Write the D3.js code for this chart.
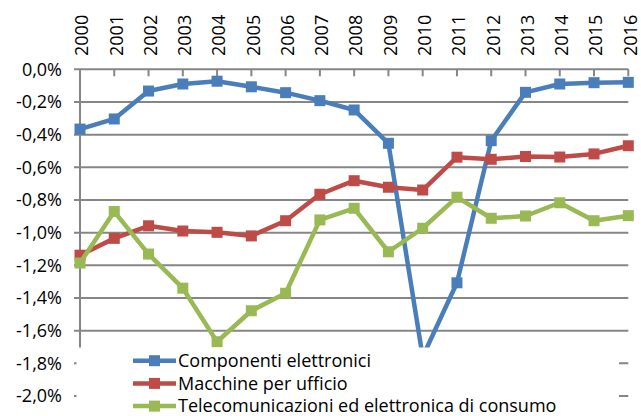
<!DOCTYPE html>
<html><head><meta charset="utf-8">
<script src="https://cdn.jsdelivr.net/npm/d3@7"></script>
<style>body{margin:0;background:#fff}svg{display:block}text{font-family:"Open Sans",sans-serif;fill:#000}</style>
</head><body><svg id="c" width="641" height="416"></svg>
<script>
const years = ["2000","2001","2002","2003","2004","2005","2006","2007","2008","2009","2010","2011","2012","2013","2014","2015","2016"];
const componenti = [-0.366,-0.304,-0.133,-0.09,-0.073,-0.107,-0.143,-0.192,-0.249,-0.453,-1.76,-1.307,-0.437,-0.141,-0.09,-0.082,-0.08];
const macchine = [-1.138,-1.035,-0.958,-0.99,-0.998,-1.02,-0.927,-0.765,-0.682,-0.722,-0.739,-0.538,-0.551,-0.534,-0.537,-0.518,-0.468];
const telecom = [-1.186,-0.871,-1.131,-1.340,-1.668,-1.478,-1.371,-0.922,-0.851,-1.117,-0.973,-0.783,-0.912,-0.898,-0.817,-0.927,-0.896];
const yTicks = [0,-0.2,-0.4,-0.6,-0.8,-1.0,-1.2,-1.4,-1.6,-1.8,-2.0];
const seriesNames = ["Componenti elettronici","Macchine per ufficio","Telecomunicazioni ed elettronica di consumo"];
const seriesColors = ["#4a7ebb","#be4b48","#98b954"];

const svg = d3.select("#c");
const x = d3.scalePoint().domain(years).range([80, 628.3]);
const y = d3.scaleLinear().domain([0, -2]).range([69.3, 396]);
const grid = "#868686";

svg.append("g").selectAll("line").data(yTicks).join("line")
  .attr("x1", 74).attr("x2", 628.3)
  .attr("y1", d => y(d)).attr("y2", d => y(d))
  .attr("stroke", grid).attr("stroke-width", 2);
svg.append("line").attr("x1", 80).attr("x2", 80).attr("y1", y(0)).attr("y2", y(-2))
  .attr("stroke", grid).attr("stroke-width", 2);
svg.append("g").selectAll("line").data(years).join("line")
  .attr("x1", d => x(d)).attr("x2", d => x(d))
  .attr("y1", y(0)).attr("y2", y(0) + 7)
  .attr("stroke", grid).attr("stroke-width", 2);

const fmt = v => (v === 0 ? "0,0%" : d3.format(".1f")(v).replace("−","-").replace(".", ",") + "%");
svg.append("g").selectAll("text").data(yTicks).join("text")
  .attr("x", 62).attr("y", d => y(d)).attr("dy", "0.35em")
  .attr("text-anchor", "end").style("font-size", "18px")
  .text(fmt);

svg.append("g").selectAll("text").data(years).join("text")
  .attr("transform", d => `translate(${x(d) + 2},56) rotate(-90)`)
  .attr("dy", "0.35em").attr("text-anchor", "start").style("font-size", "18px")
  .text(d => d);

const allSeries = [componenti, macchine, telecom];
const line = d3.line().x((d, i) => x(years[i])).y(d => y(d));
const ms = 11;
allSeries.forEach((vals, k) => {
  const g = svg.append("g");
  g.append("path").attr("d", line(vals)).attr("fill", "none")
    .attr("stroke", seriesColors[k]).attr("stroke-width", 4.5).attr("stroke-linejoin", "round");
  g.selectAll("rect").data(vals).join("rect")
    .attr("x", (d, i) => x(years[i]) - ms / 2).attr("y", d => y(d) - ms / 2)
    .attr("width", ms).attr("height", ms).attr("fill", seriesColors[k]);
});

svg.append("rect").attr("x", 76.5).attr("y", 347.5).attr("width", 542.5).attr("height", 80).attr("fill", "#fff");
const lg = svg.append("g").selectAll("g").data(seriesNames).join("g")
  .attr("transform", (d, i) => `translate(0,${360.7 + i * 22.7})`);
lg.append("line").attr("x1", 133).attr("x2", 176).attr("stroke", (d, i) => seriesColors[i]).attr("stroke-width", 4.5);
lg.append("rect").attr("x", 154.5 - ms / 2).attr("y", -ms / 2).attr("width", ms).attr("height", ms).attr("fill", (d, i) => seriesColors[i]);
lg.append("text").attr("x", 178).attr("dy", "0.35em").style("font-size", "18px").text(d => d);
</script></body></html>
